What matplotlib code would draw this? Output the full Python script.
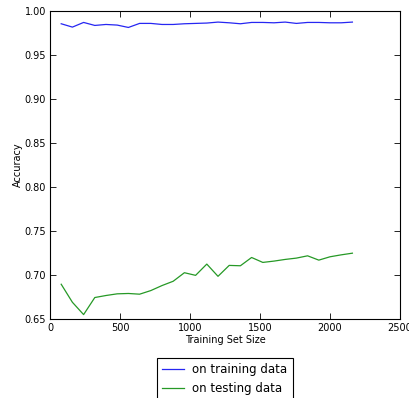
import matplotlib
matplotlib.use("Agg")
import matplotlib.pyplot as plt

train_sizes = [80, 160, 240, 320, 400, 480, 560, 640, 720, 800, 880, 960, 1040, 1120,
               1200, 1280, 1360, 1440, 1520, 1600, 1680, 1760, 1840, 1920, 2000, 2080, 2160]
train_acc = [0.9855, 0.9817, 0.9870, 0.9836, 0.9847, 0.9840, 0.9813, 0.9859, 0.9859,
             0.9847, 0.9847, 0.9855, 0.9859, 0.9863, 0.9874, 0.9866, 0.9855, 0.9870,
             0.9870, 0.9866, 0.9874, 0.9859, 0.9870, 0.9870, 0.9866, 0.9866, 0.9874]
test_acc = [0.6895, 0.6690, 0.6550, 0.6744, 0.6767, 0.6786, 0.6790, 0.6782, 0.6823,
            0.6880, 0.6929, 0.7026, 0.6996, 0.7124, 0.6985, 0.7109, 0.7105, 0.7199,
            0.7143, 0.7158, 0.7177, 0.7192, 0.7218, 0.7169, 0.7207, 0.7229, 0.7248]
labels = ["on training data", "on testing data"]

fig = plt.figure(figsize=(4.09, 3.98), dpi=100)
ax = fig.add_axes([50/409, 1 - 319/398, 350/409, 308/398])
ax.plot(train_sizes, train_acc, color=(0.15, 0.15, 0.95), lw=0.9, label=labels[0])
ax.plot(train_sizes, test_acc, color=(0.15, 0.6, 0.15), lw=0.9, label=labels[1])
ax.set_xlim(0, 2500)
ax.set_ylim(0.65, 1.0)
ax.set_xticks([0, 500, 1000, 1500, 2000, 2500])
ax.set_yticks([0.65, 0.70, 0.75, 0.80, 0.85, 0.90, 0.95, 1.00])
ax.set_yticklabels(["%.2f" % v for v in [0.65, 0.70, 0.75, 0.80, 0.85, 0.90, 0.95, 1.00]])
ax.tick_params(direction="in", top=True, right=True, labelsize=7, length=4, width=0.6, pad=3)
for s in ax.spines.values():
    s.set_linewidth(0.8)
ax.set_xlabel("Training Set Size", fontsize=7, labelpad=1)
ax.set_ylabel("Accuracy", fontsize=7, labelpad=1)
leg = ax.legend(loc="upper center", bbox_to_anchor=(0.5, -0.125), fontsize=8.5,
                fancybox=False, framealpha=1, edgecolor="black", handlelength=1.8,
                handletextpad=0.75, borderpad=0.45, labelspacing=0.5, borderaxespad=0)
leg.get_frame().set_linewidth(0.8)
fig.savefig("out.png", dpi=100)
